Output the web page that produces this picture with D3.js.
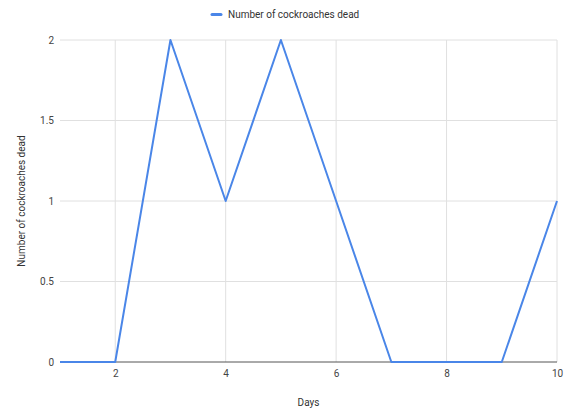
<!DOCTYPE html>
<html>
<head>
<meta charset="utf-8">
<script src="https://cdn.jsdelivr.net/npm/d3@7"></script>
<style>
  html, body { margin: 0; padding: 0; background: #fff; }
  svg { display: block; font-family: Roboto, "Noto Sans", Arial, sans-serif; }
</style>
</head>
<body>
<svg id="chart" width="569" height="412"></svg>
<script>
// Cockroach deaths recorded per day
const days = [1, 2, 3, 4, 5, 6, 7, 8, 9, 10];
const deaths = [0, 0, 2, 1, 2, 1, 0, 0, 0, 1];
const xTicks = [2, 4, 6, 8, 10];
const yTicks = [0, 0.5, 1, 1.5, 2];
const seriesName = "Number of cockroaches dead";
const xTitle = "Days";
const yTitle = "Number of cockroaches dead";

const svg = d3.select("#chart");
const plot = { left: 60, right: 557, top: 40, bottom: 362 };

const x = d3.scaleLinear().domain([1, 10]).range([plot.left, plot.right]);
const y = d3.scaleLinear().domain([0, 2]).range([plot.bottom, plot.top]);

// Horizontal gridlines
svg.append("g")
  .selectAll("line")
  .data(yTicks.filter(d => d !== 0))
  .join("line")
  .attr("x1", plot.left).attr("x2", plot.right)
  .attr("y1", d => y(d)).attr("y2", d => y(d))
  .attr("stroke", "#e0e0e0").attr("stroke-width", 1);

// Vertical gridlines
svg.append("g")
  .selectAll("line")
  .data(xTicks)
  .join("line")
  .attr("x1", d => x(d)).attr("x2", d => x(d))
  .attr("y1", plot.top).attr("y2", plot.bottom)
  .attr("stroke", "#e0e0e0").attr("stroke-width", 1);

// Y axis labels
const yAxis = d3.axisLeft(y).tickValues(yTicks).tickSize(0).tickPadding(6).tickFormat(d3.format("~g"));
svg.append("g")
  .attr("transform", `translate(${plot.left},0)`)
  .call(yAxis)
  .call(g => g.select(".domain").remove())
  .call(g => g.selectAll("text").attr("fill", "#444").attr("font-size", 10).attr("font-family", "Roboto, sans-serif"));

// X axis labels
const xAxis = d3.axisBottom(x).tickValues(xTicks).tickSize(0).tickPadding(8).tickFormat(d3.format("d"));
svg.append("g")
  .attr("transform", `translate(0,${plot.bottom})`)
  .call(xAxis)
  .call(g => g.select(".domain").remove())
  .call(g => g.selectAll("text").attr("fill", "#444").attr("font-size", 10).attr("font-family", "Roboto, sans-serif"));

// Baseline at zero
svg.append("line")
  .attr("x1", plot.left).attr("x2", plot.right)
  .attr("y1", y(0)).attr("y2", y(0))
  .attr("stroke", "#555").attr("stroke-width", 1);

// Series line
const line = d3.line().x((d, i) => x(days[i])).y(d => y(d));
svg.append("path")
  .datum(deaths)
  .attr("d", line)
  .attr("fill", "none")
  .attr("stroke", "#4a86e8")
  .attr("stroke-width", 2)
  .attr("stroke-linejoin", "round");

// Legend
const legend = svg.append("g").attr("transform", "translate(212,14.5)");
legend.append("line")
  .attr("x1", 0).attr("x2", 9).attr("y1", 0).attr("y2", 0)
  .attr("stroke", "#4a86e8").attr("stroke-width", 3).attr("stroke-linecap", "round");
legend.append("text")
  .attr("x", 16).attr("y", 0).attr("dy", "0.35em")
  .attr("font-size", 10).attr("fill", "#333")
  .text(seriesName);

// Axis titles
svg.append("text")
  .attr("x", (plot.left + plot.right) / 2).attr("y", 402)
  .attr("text-anchor", "middle").attr("dy", "0.35em")
  .attr("font-size", 10).attr("fill", "#333")
  .text(xTitle);

svg.append("text")
  .attr("transform", `translate(21,${(plot.top + plot.bottom) / 2}) rotate(-90)`)
  .attr("text-anchor", "middle").attr("dy", "0.35em")
  .attr("font-size", 10).attr("fill", "#333")
  .text(yTitle);
</script>
</body>
</html>
